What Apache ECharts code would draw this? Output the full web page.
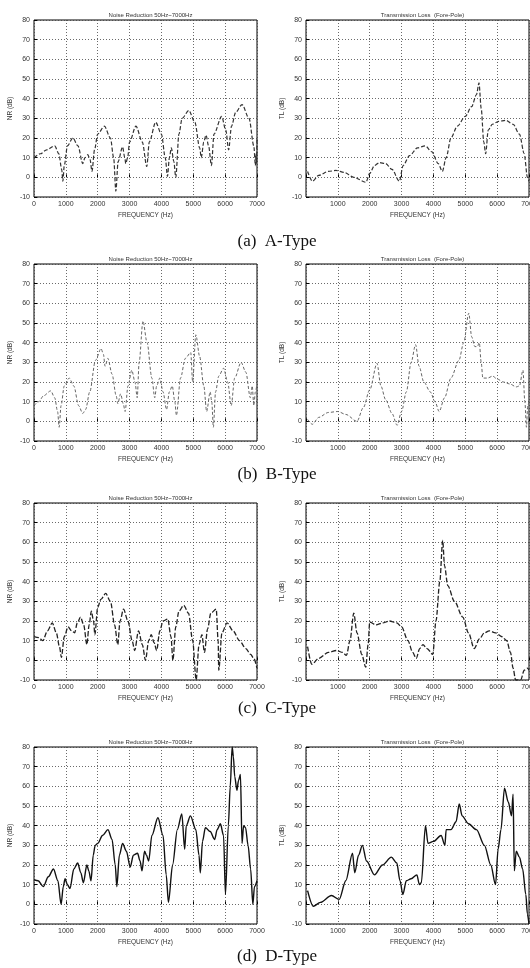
<!DOCTYPE html>
<html>
<head>
<meta charset="utf-8">
<script src="https://cdn.jsdelivr.net/npm/echarts@6/dist/echarts.min.js"></script>
<style>
html,body{margin:0;padding:0;background:#fff;}
#main{width:530px;height:968px;}
</style>
</head>
<body>
<div id="main"></div>
<script>
// ---------- data (frequency Hz, value dB) ----------
const yTicks = [-10, 0, 10, 20, 30, 40, 50, 60, 70, 80];
const xTicks = [0, 1000, 2000, 3000, 4000, 5000, 6000, 7000];
const captions = ['(a)  A-Type', '(b)  B-Type', '(c)  C-Type', '(d)  D-Type'];
const nrTitle = 'Noise Reduction 50Hz~7000Hz';
const tlTitle = 'Transmission Loss  (Fore-Pole)';

const nrA = [[0,10],[200,12],[400,14],[650,16],[780,12],[870,4],[906,-2],[950,6],[1050,16],[1220,20],[1380,16],[1530,7],[1600,10],[1690,11.5],[1760,9],[1820,3],[1900,14],[2000,22],[2210,26],[2400,20],[2500,10],[2570,-7],[2640,8],[2780,15.5],[2850,10],[2880,7],[2940,10],[3000,18],[3200,26],[3400,18],[3540,5.5],[3620,18],[3820,28],[4000,22],[4120,10],[4190,0.5],[4250,10],[4310,15],[4390,8],[4450,0],[4550,22],[4650,30],[4860,34],[5050,28],[5200,15],[5250,10],[5330,18],[5400,21.5],[5480,16],[5570,6],[5650,22],[5890,31],[6020,24],[6110,14],[6200,26],[6330,33],[6530,37],[6750,30],[6900,16],[6950,6],[6970,12],[6985,7],[7000,20]];
const tlA = [[50,3],[200,-2],[400,1],[700,3],[940,3.5],[1200,2.5],[1500,0],[1880,-2.5],[2000,2],[2150,6],[2300,7.5],[2500,7],[2700,4],[2930,-2],[3050,6],[3250,11],[3500,15],[3740,16],[3950,13],[4150,7],[4280,3],[4400,10],[4550,20],[4750,26],[5000,31],[5200,36],[5350,42],[5430,48],[5500,35],[5580,18],[5640,12],[5720,24],[5850,27],[6050,28.5],[6270,29],[6500,27],[6700,22],[6850,12],[6950,0],[7000,-2]];

const nrB = [[0,8],[150,10],[300,13],[526,15.5],[650,12],[740,5],[790,-3],[850,8],[950,18],[1105,22],[1250,18],[1400,8],[1530,4],[1620,6],[1750,15],[1930,31],[2105,37],[2180,34],[2230,28],[2320,32],[2450,24],[2580,13],[2630,9],[2720,14],[2800,9],[2860,5],[2950,18],[3070,26],[3170,20],[3240,12],[3300,30],[3420,51],[3550,40],[3700,22],[3790,12],[3850,18],[3950,22],[4050,15],[4160,6],[4250,15],[4340,18],[4420,10],[4470,3],[4600,22],[4750,32],[4920,35],[4980,20],[5080,44],[5200,33],[5330,18],[5420,5],[5530,15],[5580,10],[5630,-3],[5700,15],[5800,23],[5950,27],[6080,20],[6190,8],[6300,22],[6500,30],[6650,25],[6790,12],[6850,18],[6900,8],[6950,15],[7000,19]];
const tlB = [[50,1],[200,-1.5],[400,2],[700,4.5],[1000,5],[1250,3.5],[1600,0],[1800,7],[2000,16],[2230,29.5],[2350,18],[2500,11],[2700,4],[2860,-2],[3000,5],[3150,15],[3300,30],[3440,39],[3550,28],[3700,20],[3900,15],[4050,10],[4180,5],[4350,12],[4550,22],[4800,31],[4950,40],[5110,55],[5200,43],[5300,38],[5380,38],[5440,40],[5500,30],[5550,22],[5700,22],[5860,23],[6000,21.5],[6200,20],[6400,19],[6600,17.5],[6700,18],[6810,26],[6870,10],[6920,-3],[6960,8],[7000,10]];

const nrC = [[0,12],[150,11.5],[280,10],[420,15],[575,19],[700,14],[800,7],[860,1.5],[950,12],[1070,17],[1180,15],[1275,14],[1360,19],[1460,22],[1560,18],[1660,8],[1730,18],[1800,25],[1870,20],[1910,13],[2000,27],[2100,31],[2250,34],[2400,30],[2530,18],[2630,8],[2700,20],[2810,26],[2950,20],[3080,10],[3160,5],[3280,15],[3400,8],[3500,0],[3600,10],[3680,13],[3770,9],[3850,5],[3950,15],[4050,20],[4200,21],[4300,12],[4360,0],[4450,17],[4550,25],[4700,28],[4850,24],[4980,10],[5090,-10],[5180,8],[5270,13],[5350,4],[5450,16],[5550,24],[5720,26],[5780,10],[5800,-5],[5900,14],[6060,19],[6250,15],[6450,10],[6650,6],[6800,3],[6900,1],[7000,-4]];
const tlC = [[50,7],[180,-2],[400,1],[700,4],[960,5],[1150,4],[1270,2.5],[1380,10],[1500,24],[1600,14],[1750,3],[1875,-3.5],[1950,8],[2000,19.5],[2200,18],[2400,19],[2620,20],[2850,19],[3000,17],[3200,10],[3350,4],[3460,1],[3570,6],[3670,8],[3800,6],[3980,3],[4080,20],[4200,40],[4290,61],[4350,48],[4450,38],[4660,30],[4920,22],[5100,14],[5280,6],[5450,11],[5600,14],[5750,15],[5950,14],[6150,12],[6300,10],[6420,4],[6500,-4],[6580,-10],[6740,-10],[6850,-5],[6950,-4],[7000,-5]];

const nrD = [[0,12.5],[130,12],[290,9],[450,14],[610,18],[750,12],[850,0],[920,9],[975,13],[1050,10],[1130,8],[1250,18],[1370,21],[1470,16],[1550,11],[1660,20],[1720,17],[1790,12],[1860,25],[1920,30],[2000,31],[2150,35],[2320,38],[2450,33],[2550,20],[2600,9],[2680,25],[2780,31],[2900,27],[3020,19],[3120,25],[3250,26],[3330,22],[3390,17],[3470,27],[3530,25],[3600,22],[3700,35],[3890,44],[4050,35],[4150,15],[4220,1],[4350,20],[4500,38],[4640,46],[4730,28],[4780,40],[4910,45],[5080,38],[5180,25],[5220,16],[5290,32],[5380,39],[5530,37],[5670,33],[5750,38],[5850,41],[5950,35],[6010,5],[6100,40],[6160,60],[6220,80],[6260,75],[6300,65],[6370,58],[6420,63],[6480,66],[6530,31],[6580,40],[6640,39],[6720,30],[6800,18],[6870,0],[6920,9],[7000,12]];
const tlD = [[50,7],[230,-1],[450,1],[800,4.5],[1040,2.5],[1250,12],[1460,26],[1530,16],[1650,25],[1770,30],[1900,22],[2150,15],[2400,20],[2680,24],[2850,21],[2950,12],[3040,5],[3150,12],[3300,13],[3480,15],[3560,10],[3620,11],[3750,40],[3830,31],[4000,32],[4240,35],[4360,30],[4400,38],[4550,38],[4710,42],[4810,51],[4900,45],[5100,41],[5350,38],[5600,30],[5800,20],[5950,10],[6030,28],[6120,38],[6230,59],[6350,52],[6450,45],[6500,56],[6540,17],[6600,27],[6700,24],[6800,18],[6900,5],[6950,-5],[7000,-10]];

const nrSeries = [nrA, nrB, nrC, nrD];
const tlSeries = [tlA, tlB, tlC, tlD];

// ---------- layout / style ----------
const rowTops = [20, 264, 503, 747];
const plotH = 177, plotW = 223;
const colLeft = [34, 306];
const lineStyles = [
  {color:'#333', width:1.2, type:[4,2]},
  {color:'#666', width:1.0, type:[3,2]},
  {color:'#222', width:1.3, type:[5,2]},
  {color:'#111', width:1.4, type:'solid'}
];
const small = 'Liberation Sans';

const grids = [], xAxes = [], yAxes = [], series = [], titles = [];
let gi = 0;
for (let r = 0; r < 4; r++) {
  for (let c = 0; c < 2; c++) {
    const isNR = c === 0;
    grids.push({left: colLeft[c], top: rowTops[r], width: plotW, height: plotH,
      containLabel: false, outerBoundsMode: 'none',
      show: true, borderColor: '#000', borderWidth: 1, backgroundColor: '#fff'});
    xAxes.push({type:'value', gridIndex: gi, min: xTicks[0], max: xTicks[xTicks.length-1], interval: 1000,
      name: 'FREQUENCY (Hz)', nameLocation:'middle', nameGap: 15,
      nameTextStyle:{fontFamily: small, fontSize: 6.5, color:'#333'},
      axisLine:{show:false}, axisTick:{show:true, inside:true, length:3, lineStyle:{color:'#000'}},
      axisLabel:{fontFamily: small, fontSize: 7, color:'#333', margin: 4, hideOverlap:false,
        formatter: v => (!isNR && v === 0) ? '' : String(v)},
      splitLine:{show:true, lineStyle:{type:[1,2], color:'#444', width:0.8}}});
    yAxes.push({type:'value', gridIndex: gi, min: yTicks[0], max: yTicks[yTicks.length-1], interval: 10,
      name: isNR ? 'NR (dB)' : 'TL (dB)', nameLocation:'middle', nameGap: 20, nameRotate: 90,
      nameTextStyle:{fontFamily: small, fontSize: 6.5, color:'#333'},
      axisLine:{show:false}, axisTick:{show:true, inside:true, length:3, lineStyle:{color:'#000'}},
      axisLabel:{fontFamily: small, fontSize: 7, color:'#333', margin: 4},
      splitLine:{show:true, lineStyle:{type:[1,2], color:'#444', width:0.8}}});
    series.push({type:'line', xAxisIndex: gi, yAxisIndex: gi,
      data: isNR ? nrSeries[r] : tlSeries[r], showSymbol:false, symbol:'none',
      smooth: 0.3, smoothMonotone:'x', lineStyle: lineStyles[r], animation:false, clip:true});
    titles.push({text: isNR ? nrTitle : tlTitle, left: colLeft[c] + plotW/2, top: rowTops[r] - 13,
      textAlign:'center', textStyle:{fontFamily: small, fontSize: 6, fontWeight:'normal', color:'#333'}});
    gi++;
  }
}
const capY = [228, 461, 695, 943];
for (let r = 0; r < 4; r++) {
  titles.push({text: captions[r], left: 272, top: capY[r], textAlign:'center',
    textStyle:{fontFamily:'Liberation Serif', fontSize: 17, fontWeight:'normal', color:'#111'}});
}

const chart = echarts.init(document.getElementById('main'), null, {renderer:'canvas'});
chart.setOption({animation:false, backgroundColor:'#fff', title: titles, grid: grids,
  xAxis: xAxes, yAxis: yAxes, series: series});
</script>
</body>
</html>
